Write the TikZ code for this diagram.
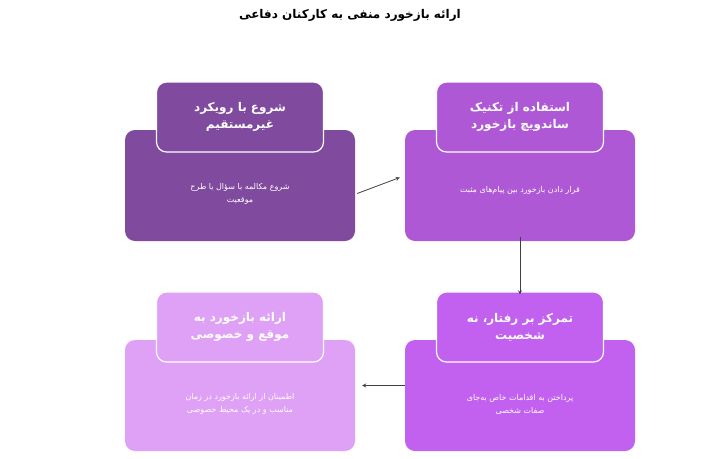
\documentclass[tikz,border=0pt]{standalone}
\usepackage{fontspec}
\TeXXeTstate=1
\newfontfamily\fa[Script=Arabic]{DejaVu Sans}
\newcommand{\R}[1]{\beginR #1\endR}
\begin{document}
\begin{tikzpicture}[x=1pt,y=-1pt,
  body/.style={rounded corners=10pt,minimum width=230pt,minimum height=111pt,inner sep=0pt},
  head/.style={rounded corners=10pt,draw=white,line width=1.2pt,minimum width=167pt,minimum height=70pt,text=white,font=\fa\bfseries\fontsize{12}{17}\selectfont,align=center},
  btxt/.style={text=white,font=\fa\fontsize{8}{13}\selectfont,align=center},
  arr/.style={->,>=stealth,line width=0.8pt,draw=black!75}]
\useasboundingbox (0,0) rectangle (701,458);
\definecolor{c1}{HTML}{804A9E}
\definecolor{c2}{HTML}{AE58D6}
\definecolor{c3}{HTML}{C261F0}
\definecolor{c4}{HTML}{DEA1F5}
\node[font=\fa\bfseries\fontsize{12}{14}\selectfont] (t) at (350,15) {\R{ارائه بازخورد منفی به کارکنان دفاعی}};
% box 1
\node[body,fill=c1] (b1) at (240,185.5) {};
\node[head,fill=c1] (h1) at (240,117) {\R{شروع با رویکرد}\\\R{غیرمستقیم}};
\node[btxt] (x1) at (240,194) {\R{شروع مکالمه با سؤال یا طرح}\\\R{موقعیت}};
% box 2
\node[body,fill=c2] (b2) at (520,185.5) {};
\node[head,fill=c2] (h2) at (520,117) {\R{استفاده از تکنیک}\\\R{ساندویچ بازخورد}};
\node[btxt] (x2) at (520,190) {\R{قرار دادن بازخورد بین پیام‌های مثبت}};
% box 3
\node[body,fill=c3] (b3) at (520,395.5) {};
\node[head,fill=c3] (h3) at (520,327) {\R{تمرکز بر رفتار، نه}\\\R{شخصیت}};
\node[btxt] (x3) at (520,404) {\R{پرداختن به اقدامات خاص به‌جای}\\\R{صفات شخصی}};
% box 4
\node[body,fill=c4] (b4) at (240,395.5) {};
\node[head,fill=c4] (h4) at (240,327) {\R{ارائه بازخورد به}\\\R{موقع و خصوصی}};
\node[btxt] (x4) at (240,404) {\R{اطمینان از ارائه بازخورد در زمان}\\\R{مناسب و در یک محیط خصوصی}};
\draw[arr] (b1.east)++(2,8) coordinate (a1) -- ([xshift=-5pt,yshift=8pt]b2.west);
\draw[arr] ([yshift=4pt]b2.south) -- ([yshift=-3pt]h3.north);
\draw[arr] ([xshift=0pt,yshift=10pt]b3.west) -- ([xshift=7pt,yshift=10pt]b4.east);
\end{tikzpicture}
\end{document}
